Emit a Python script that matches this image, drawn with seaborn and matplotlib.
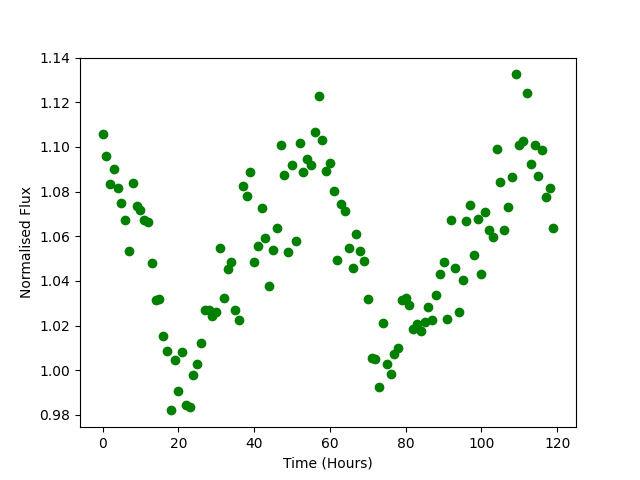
import numpy as np
import pandas as pd
import matplotlib
matplotlib.use('Agg')
import matplotlib.pyplot as plt
import seaborn as sns

hours = np.arange(0, 120)
flux = [
    1.1057, 1.0958, 1.0834, 1.0900, 1.0815, 1.0748, 1.0671, 1.0533, 1.0837, 1.0737,
    1.0719, 1.0671, 1.0662, 1.0479, 1.0314, 1.0319, 1.0152, 1.0085, 0.9821, 1.0044,
    0.9906, 1.0080, 0.9843, 0.9837, 0.9977, 1.0027, 1.0121, 1.0268, 1.0268, 1.0241,
    1.0259, 1.0546, 1.0322, 1.0452, 1.0485, 1.0268, 1.0224, 1.0824, 1.0779, 1.0886,
    1.0483, 1.0555, 1.0725, 1.0591, 1.0376, 1.0537, 1.0636, 1.1007, 1.0873, 1.0528,
    1.0918, 1.0577, 1.1016, 1.0886, 1.0945, 1.0918, 1.1065, 1.1227, 1.1030, 1.0891,
    1.0927, 1.0801, 1.0492, 1.0743, 1.0712, 1.0546, 1.0456, 1.0609, 1.0533, 1.0488,
    1.0319, 1.0055, 1.0049, 0.9924, 1.0210, 1.0028, 0.9982, 1.0071, 1.0100, 1.0313,
    1.0325, 1.0291, 1.0185, 1.0208, 1.0174, 1.0214, 1.0282, 1.0224, 1.0336, 1.0430,
    1.0485, 1.0228, 1.0671, 1.0456, 1.0259, 1.0403, 1.0667, 1.0739, 1.0515, 1.0676,
    1.0430, 1.0707, 1.0627, 1.0598, 1.0989, 1.0842, 1.0627, 1.0730, 1.0864, 1.1325,
    1.1007, 1.1025, 1.1240, 1.0922, 1.1007, 1.0868, 1.0985, 1.0774, 1.0815, 1.0636,
]

df = pd.DataFrame({'hours': hours, 'flux': flux})

fig, ax = plt.subplots(figsize=(6.4, 4.8), dpi=100)
sns.scatterplot(data=df, x='hours', y='flux', color='green', s=36,
                edgecolor='green', linewidth=1, ax=ax)
ax.set_ylim(0.9745, 1.14)
ax.set_xlabel('Time (Hours)')
ax.set_ylabel('Normalised Flux')
fig.savefig('out.png', dpi=100)
